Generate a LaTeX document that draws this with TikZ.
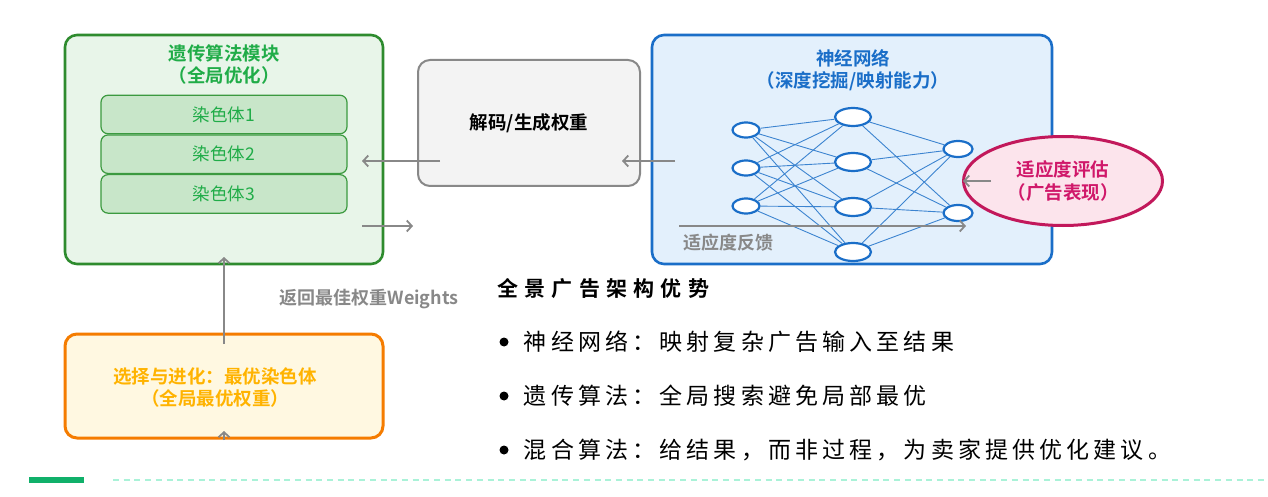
\documentclass[tikz,border=0pt]{standalone}
\usepackage{fontspec}
\setmainfont{Noto Sans CJK SC}[BoldFont={Noto Sans CJK SC Bold}]
\newfontfamily\widefont{Noto Sans CJK SC}[LetterSpace=18, BoldFont={Noto Sans CJK SC Bold}]
\newfontfamily\widetitle{Noto Sans CJK SC}[LetterSpace=30, BoldFont={Noto Sans CJK SC Bold}]
\usetikzlibrary{positioning, arrows.meta, shapes.geometric, calc}

\definecolor{gaGreen}{HTML}{2E8B2E}
\definecolor{gaFill}{HTML}{E8F5E9}
\definecolor{gaText}{HTML}{20AC48}
\definecolor{chrFill}{HTML}{C8E6C9}
\definecolor{chrLine}{HTML}{3C9A40}
\definecolor{decFill}{HTML}{F3F3F3}
\definecolor{decLine}{HTML}{888888}
\definecolor{nnBlue}{HTML}{1A6EC8}
\definecolor{nnFill}{HTML}{E3F0FC}
\definecolor{fitLine}{HTML}{C2185B}
\definecolor{fitFill}{HTML}{FCE4EC}
\definecolor{fitText}{HTML}{D0186A}
\definecolor{evoLine}{HTML}{F57C00}
\definecolor{evoFill}{HTML}{FFF8E1}
\definecolor{evoText}{HTML}{FFB300}
\definecolor{flowGray}{HTML}{888888}
\definecolor{barGreen}{HTML}{10B06A}
\definecolor{dashMint}{HTML}{AAF2D8}

\begin{document}
\begin{tikzpicture}[x=1pt, y=-1pt,
        modbox/.style={rectangle, rounded corners=12pt, line width=2.6pt,
          minimum width=318pt, minimum height=229pt, inner sep=0pt},
        boxtitle/.style={align=center, font=\bfseries\fontsize{18.5}{22}\selectfont, inner sep=0pt},
        chrbox/.style={rectangle, draw=chrLine, fill=chrFill, rounded corners=7pt, line width=1.2pt,
          minimum width=246pt, minimum height=38.5pt, inner sep=0pt,
          font=\fontsize{17.5}{20}\selectfont, text=gaText},
        decbox/.style={rectangle, draw=decLine, fill=decFill, rounded corners=12pt, line width=2pt,
          minimum width=222pt, minimum height=126pt, inner sep=0pt,
          font=\bfseries\fontsize{18.5}{20}\selectfont},
        neuron/.style={ellipse, draw=nnBlue, fill=white, line width=2.2pt, inner sep=0pt},
        synapse/.style={draw=nnBlue!85, line width=0.9pt},
        fitness/.style={ellipse, draw=fitLine, fill=fitFill, line width=3pt, inner sep=0pt,
          minimum width=199pt, minimum height=89pt, align=center, text=fitText,
          font=\bfseries\fontsize{18.5}{23}\selectfont},
        flow/.style={-{Straight Barb[length=5pt,width=11pt]}, line width=1.8pt, draw=flowGray},
        graytxt/.style={text=flowGray, font=\bfseries\fontsize{18}{20}\selectfont, inner sep=0pt},
        advtext/.style={font=\widefont\fontsize{23}{26}\selectfont, inner sep=0pt, anchor=west},
        bulletdot/.style={circle, fill=black, minimum size=9pt, inner sep=0pt}
      ]
        \fill[white] (0,0) rectangle (1268,497);
        \useasboundingbox (0,0) rectangle (1268,497);

        % genetic algorithm module
        \node[modbox, draw=gaGreen, fill=gaFill] (ga) at (224,149.5) {};
        \node[boxtitle, text=gaText] (gatitle) at (224,64) {遗传算法模块\\（全局优化）};
        \node[chrbox] (chr1) at (224,114.5) {染色体1};
        \node[chrbox, below=0pt of chr1] (chr2) {染色体2};
        \node[chrbox, below=0pt of chr2] (chr3) {染色体3};

        % decoder
        \node[decbox] (dec) at (529,123) {\raisebox{-5pt}{解码/生成权重}};

        % neural network
        \node[modbox, minimum width=400pt, draw=nnBlue, fill=nnFill] (nn) at (852,149.5) {};
        \node[boxtitle, text=nnBlue] (nntitle) at (853,70) {神经网络\\（深度挖掘/映射能力）};
        \foreach \y [count=\i] in {130,168,206}
          \node[neuron, minimum width=27pt, minimum height=15pt] (in\i) at (746,\y) {};
        \foreach \y [count=\i] in {117,162,207,252}
          \node[neuron, minimum width=36pt, minimum height=18pt] (hid\i) at (853,\y) {};
        \foreach \y [count=\i] in {149,213}
          \node[neuron, minimum width=29pt, minimum height=16pt] (out\i) at (958,\y) {};
        \foreach \i in {1,2,3}
          \foreach \j in {1,...,4}
            \draw[synapse] (in\i) -- (hid\j);
        \foreach \j in {1,...,4}
          \foreach \k in {1,2}
            \draw[synapse] (hid\j) -- (out\k);

        % fitness
        \node[fitness] (fit) at (1063,181) {适应度评估\\（广告表现）};

        % evolution
        \node[modbox, minimum height=104pt, draw=evoLine, fill=evoFill, line width=3pt] (evo) at (224,386) {};
        \node[boxtitle, text=evoText] (evotitle) at (215,387) {选择与进化：最优染色体\\（全局最优权重）};

        % arrow ends
        \coordinate (decL) at (440,161);
        \coordinate (gaR) at (362,161);
        \coordinate (nnL) at (675,161);
        \coordinate (decR) at (622,161);
        \coordinate (gaOut) at (362,226);
        \coordinate (decIn) at (413,226);
        \coordinate (evoTop) at (224,344);
        \coordinate (gaBot) at (224,257);
        \coordinate (evoLow) at (224,440);
        \coordinate (evoTip) at (224,431);
        \coordinate (fitIn) at (991,181);
        \coordinate (fitTip) at (963,181);
        \coordinate (fbS) at (679,226);
        \coordinate (fbE) at (966,226);

        \draw[flow] (decL) -- (gaR);
        \draw[flow] (nnL) -- (decR);
        \draw[flow] (gaOut) -- (decIn);
        \draw[flow] (evoTop) -- (gaBot);
        \draw[flow] (evoLow) -- (evoTip);
        \draw[flow] (fitIn) -- (fitTip);
        \draw[flow] (fbS) -- (fbE);

        \node[graytxt, anchor=west] (fblabel) at (683,243) {适应度反馈};
        \node[graytxt] (backlabel) at (369,299) {返回最佳权重Weights};

        % advantages
        \node[font=\widetitle\bfseries\fontsize{21}{24}\selectfont, inner sep=0pt, anchor=west] (advtitle) at (497,289) {全景广告架构优势};
        \node[bulletdot] (b1) at (504,342) {};
        \node[bulletdot] (b2) at (504,396) {};
        \node[bulletdot] (b3) at (504,450) {};
        \node[advtext, right=15pt of b1] (adv1) {神经网络：映射复杂广告输入至结果};
        \node[advtext, right=15pt of b2] (adv2) {遗传算法：全局搜索避免局部最优};
        \node[advtext, right=15pt of b3] (adv3) {混合算法：给结果，而非过程，为卖家提供优化建议。};

        % footer
        \fill[barGreen] (29,477) rectangle (84,483);
        \draw[dashMint, line width=2pt, dash pattern=on 6pt off 4.7pt] (113,480) -- (1268,480);
      \end{tikzpicture}
\end{document}
